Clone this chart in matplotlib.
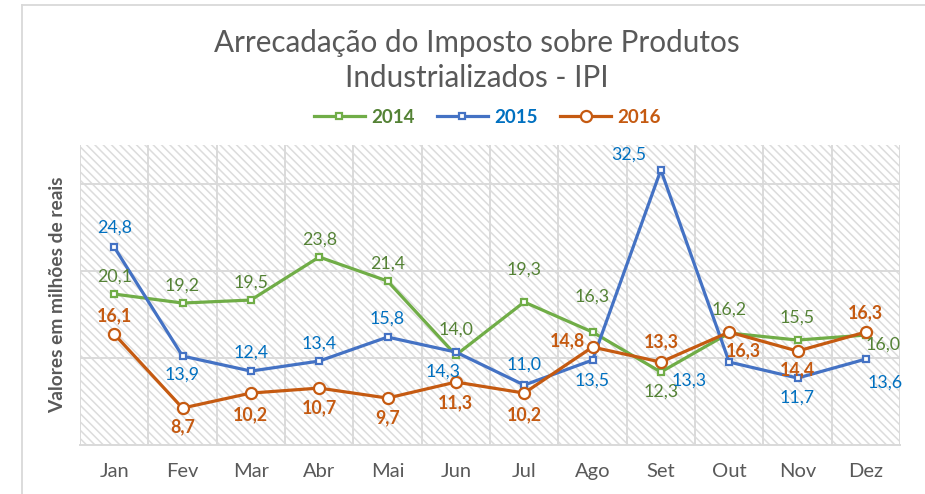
import matplotlib.pyplot as plt
from matplotlib.patches import Rectangle
from matplotlib.lines import Line2D
import numpy as np

meses = ['Jan', 'Fev', 'Mar', 'Abr', 'Mai', 'Jun',
         'Jul', 'Ago', 'Set', 'Out', 'Nov', 'Dez']
ipi_2014 = [20.1, 19.2, 19.5, 23.8, 21.4, 14.0, 19.3, 16.3, 12.3, 16.2, 15.5, 16.0]
ipi_2015 = [24.8, 13.9, 12.4, 13.4, 15.8, 14.3, 11.0, 13.5, 32.5, 13.3, 11.7, 13.6]
ipi_2016 = [16.1, 8.7, 10.2, 10.7, 9.7, 11.3, 10.2, 14.8, 13.3, 16.3, 14.4, 16.3]

# posição dos rótulos de cada ponto (deslocamento em pixels)
pos_2014 = [(0, 17), (0, 17), (0, 17), (0, 17), (0, 17), (0, 25),
            (0, 32), (0, 35), (0, -20), (0, 23), (0, 22), (17, -10)]
pos_2015 = [(0, 19), (0, -19), (0, 18), (0, 17), (0, 18), (-13, -20),
            (0, 20), (0, -21), (-32, 15), (-40, -19), (0, -20), (19, -24)]
pos_2016 = [(0, 18), (0, -19), (0, -22), (0, -20), (0, -20), (0, -21),
            (0, -22), (-25, 6), (0, 20), (14, -19), (0, -19), (0, 19)]

plt.rcParams['font.family'] = ['Lato', 'DejaVu Sans']
plt.rcParams['hatch.linewidth'] = 1.1

fig = plt.figure(figsize=(9.25, 4.94), dpi=100)
ax = fig.add_axes([0.0865, 0.099, 0.8865, 0.6075])

x = np.arange(len(meses))

# fundo listrado
ax.patch.set_facecolor('white')
hatch_bg = Rectangle((0, 0), 1, 1, transform=ax.transAxes, facecolor='white',
                     edgecolor='#dcdcdc', linewidth=0, hatch='\\\\\\\\', zorder=0)
ax.add_patch(hatch_bg)

series = [
    (ipi_2014, '2014', '#70ad47', '#548235', 's', 4, 'normal', pos_2014),
    (ipi_2015, '2015', '#4472c4', '#0070c0', 's', 4, 'normal', pos_2015),
    (ipi_2016, '2016', '#c55a11', '#c55a11', 'o', 8, 'bold', pos_2016),
]

handles = []
for vals, nome, cor, cor_txt, mk, ms, peso, pos in series:
    ln, = ax.plot(x, vals, color=cor, lw=2.3, marker=mk, markersize=ms,
                  markerfacecolor='white', markeredgecolor=cor,
                  markeredgewidth=1.6, zorder=3)
    handles.append(ln)
    for xi, v, (dx, dy) in zip(x, vals, pos):
        ax.annotate(f'{v:.1f}'.replace('.', ','), (xi, v), xytext=(dx, dy),
                    textcoords='offset pixels', ha='center', va='center',
                    color=cor_txt, fontsize=12.8, fontweight=peso, zorder=4)

ax.set_xlim(-0.5, 11.5)
ax.set_ylim(5, 35)
ax.set_yticks([13.7, 22.4, 31.1])
ax.set_xticks(np.arange(-0.5, 12, 0.5), minor=True)
ax.set_xticks(x)
ax.set_xticklabels(meses, fontsize=14.5, color='#595959')
ax.tick_params(axis='y', left=False, labelleft=False)
ax.tick_params(axis='x', which='both', length=0, pad=13)
ax.grid(True, axis='y', color='#dadada', lw=1.4, zorder=1)
ax.grid(True, axis='x', which='minor', color='#dadada', lw=1.4, zorder=1)
ax.set_axisbelow(True)
for s in ['top', 'right', 'left']:
    ax.spines[s].set_visible(False)
ax.spines['bottom'].set_color('#d9d9d9')
ax.spines['bottom'].set_linewidth(1.4)

ax.set_ylabel('Valores em milhões de reais', fontsize=13.8, fontweight='bold',
              color='#595959', labelpad=10)

fig.text(0.515, 0.878, 'Arrecadação do Imposto sobre Produtos\nIndustrializados - IPI',
         ha='center', va='center', fontsize=21.3, color='#595959', linespacing=1.3)

leg = fig.legend(handles, ['2014', '2015', '2016'], loc='center',
                 bbox_to_anchor=(0.527, 0.763), ncol=3, frameon=False,
                 handlelength=2.7, columnspacing=1.2, handletextpad=0.35,
                 prop={'size': 13.5, 'weight': 'bold'})
for txt, s in zip(leg.get_texts(), series):
    txt.set_color(s[3])

# moldura do gráfico
fig.add_artist(Line2D([22 / 925, 1], [1 - 5 / 494, 1 - 5 / 494], color='#d9d9d9', lw=1.3))
fig.add_artist(Line2D([22 / 925, 22 / 925], [0, 1 - 5 / 494], color='#d9d9d9', lw=1.3))

fig.savefig('out.png', dpi=100)
